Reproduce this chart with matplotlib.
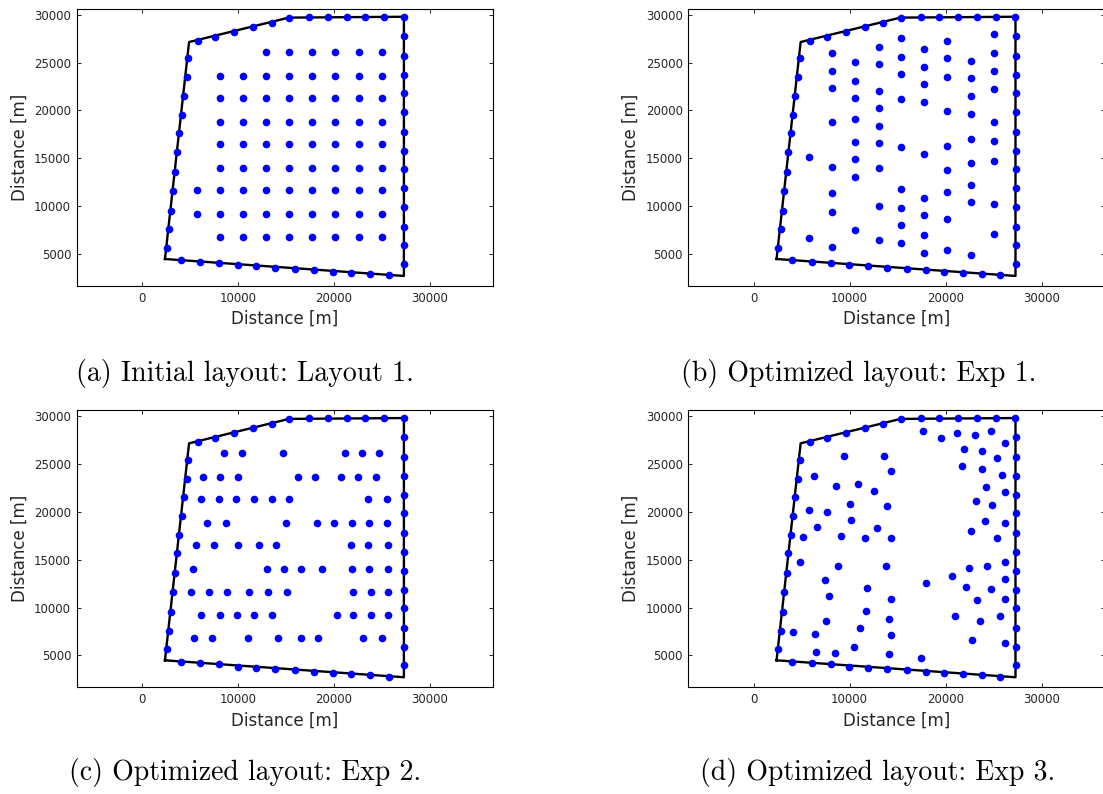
import matplotlib
matplotlib.use("Agg")
import matplotlib.pyplot as plt

# ---------------------------------------------------------------------------
# Site data (metres)
# ---------------------------------------------------------------------------
# Site boundary polygon
boundary_x = [2390, 4900, 15300, 27270, 27270, 2390]
boundary_y = [4490, 27150, 29700, 29790, 2720, 4490]

# Turbines fixed on the site boundary (common to every layout)
edge_x = [2570, 2810, 3050, 3190, 3440, 3610, 3850, 4130, 4340, 4650, 4790,
          5860, 7630, 9610, 11560, 13500, 15300, 17390, 19330, 21310, 23250,
          25190, 27270,
          27300, 27300, 27300, 27300, 27300, 27300, 27300, 27300, 27300,
          27300, 27300, 27300, 27300,
          25680, 23740, 21790, 19850, 17910, 15960, 13850, 11900, 9960, 8020,
          6070, 4030]
edge_y = [5640, 7590, 9540, 11630, 13570, 15660, 17610, 19560, 21510, 23460,
          25440,
          27290, 27670, 28190, 28710, 29130, 29650, 29790, 29790, 29790, 29790,
          29790, 29790,
          27810, 25720, 23740, 21790, 19840, 17750, 15800, 13850, 11870, 9920,
          7870, 5920, 3970,
          2790, 2930, 3070, 3170, 3310, 3450, 3590, 3730, 3830, 4070, 4210,
          4350]

# Layout 1: regular grid, one list of x positions per row
layout1_rows_y = [26100, 23600, 21300, 18830, 16500, 14030, 11660, 9190, 6820]
layout1_rows_x = [
    [12940, 15300, 17730, 20130, 22560, 24950],
    [8120, 10510, 12940, 15300, 17730, 20130, 22560, 24950],
    [8120, 10510, 12940, 15300, 17730, 20130, 22560, 24950],
    [8120, 10510, 12940, 15300, 17730, 20130, 22560, 24950],
    [8120, 10510, 12940, 15300, 17730, 20130, 22560, 24950],
    [8120, 10510, 12940, 15300, 17730, 20130, 22560, 24950],
    [5690, 8120, 10510, 12940, 15300, 17730, 20130, 22560, 24950],
    [5690, 8120, 10510, 12940, 15300, 17730, 20130, 22560, 24950],
    [8120, 10510, 12940, 15300, 17730, 20130, 22560, 24950],
]

# Exp 1: turbines moved along their columns
exp1_cols_x = [5740, 8210, 10540, 13020, 15350, 17780, 20150, 22620, 24990]
exp1_cols_y = [
    [15180, 6680],
    [25960, 24150, 22340, 18790, 14130, 11380, 9430, 5780],
    [25060, 23110, 21300, 19070, 16710, 14900, 13090, 7480],
    [26620, 24820, 22070, 20260, 18410, 16600, 13990, 10060, 6440],
    [27530, 25580, 23770, 21160, 16220, 11770, 9820, 8010, 6200],
    [26380, 24540, 22730, 20920, 15420, 10860, 9050, 6960, 5120],
    [27290, 25480, 23490, 19980, 16320, 13750, 11520, 8670, 5400],
    [25200, 23390, 21540, 19600, 16990, 14510, 12180, 10480, 4870],
    [27950, 25960, 24150, 22210, 18790, 16850, 14760, 10230, 7100],
]

# Exp 2: turbines moved along their rows
exp2_rows_y = [26100, 23600, 21300, 18830, 16500, 14030, 11660, 9190, 6820]
exp2_rows_x = [
    [8560, 10370, 14690, 21090, 22900, 24710],
    [6330, 8140, 9990, 16250, 18060, 20670, 22520, 24330],
    [6190, 8000, 9740, 11690, 13540, 15350, 23560, 25510],
    [6750, 8700, 15030, 18200, 19980, 21850, 23660, 25510],
    [5600, 7520, 9990, 12180, 13990, 21720, 23560, 25650],
    [5290, 12980, 14830, 16530, 18720, 21850, 23660, 25650],
    [5150, 7000, 8840, 11140, 13120, 15070, 21990, 23800, 25650],
    [6190, 8140, 9880, 11690, 13540, 20290, 21990, 23800, 25650],
    [5430, 7240, 11030, 14160, 16530, 18340, 23040, 25020],
]

# Exp 3: free placement
exp3_x = [17680, 19490, 21230, 23040, 24710, 26170, 21960, 23770, 25370,
          21720, 23770, 25890, 24220, 26170, 23180, 24810, 24080, 26170,
          22620, 25370, 26170, 24330, 22380, 20640, 26170, 17920, 22100,
          24710, 26170, 23280, 20950, 23530, 25610, 22760, 26170, 17440,
          9400, 13540, 14340, 6260, 8600, 10820, 12490, 10020, 13920, 5740,
          7690, 10160, 6610, 12880, 5190, 9120, 11590, 14340, 4840, 8840,
          13820, 7450, 11830, 7800, 14340, 11730, 7550, 14060, 11030, 4140,
          6370, 14340, 10410, 6540, 8460, 14060]
exp3_y = [28400, 27740, 28260, 28020, 28400, 27220, 26560, 26310, 25650,
          24750, 24500, 23880, 22550, 22030, 21160, 20710, 19040, 18790,
          17990, 17230, 14760, 14380, 14100, 13330, 12950, 12570, 12150,
          11900, 10860, 10760, 9160, 8630, 9160, 6580, 6340, 4770,
          25790, 25790, 24220, 23700, 22660, 22940, 22170, 20850, 20600,
          20190, 19940, 19180, 18380, 18270, 17370, 17510, 17230, 17230,
          14760, 14380, 14380, 12910, 12010, 11240, 10860, 9680, 8630, 8770,
          7870, 7480, 7210, 7100, 5920, 5400, 5260, 5150]

captions = ["(a) Initial layout: Layout 1.",
            "(b) Optimized layout: Exp 1.",
            "(c) Optimized layout: Exp 2.",
            "(d) Optimized layout: Exp 3."]


def rows_to_points(rows_y, rows_x):
    xs, ys = [], []
    for y, row in zip(rows_y, rows_x):
        xs.extend(row)
        ys.extend([y] * len(row))
    return xs, ys


def cols_to_points(cols_x, cols_y):
    xs, ys = [], []
    for x, col in zip(cols_x, cols_y):
        xs.extend([x] * len(col))
        ys.extend(col)
    return xs, ys


interior = [
    rows_to_points(layout1_rows_y, layout1_rows_x),
    cols_to_points(exp1_cols_x, exp1_cols_y),
    rows_to_points(exp2_rows_y, exp2_rows_x),
    (exp3_x, exp3_y),
]

# ---------------------------------------------------------------------------
# Figure
# ---------------------------------------------------------------------------
W, H = 1103, 794
fig = plt.figure(figsize=(W / 100, H / 100), dpi=100)

ax_w, ax_h = 416.6, 277.3
ax_origins = [(76.7, 8.7), (688.3, 8.7), (76.7, 410.0), (688.3, 410.0)]
caption_pos = [(76, 381), (681, 381), (69, 780), (700, 780)]

for (left, top), (ix, iy), cap, (cx, cy) in zip(ax_origins, interior,
                                                captions, caption_pos):
    ax = fig.add_axes([left / W, 1 - (top + ax_h) / H, ax_w / W, ax_h / H])
    ax.plot(boundary_x, boundary_y, color="k", lw=1.7, zorder=2)
    ax.plot(edge_x + list(ix), edge_y + list(iy), "o", color="#0000ff",
            ms=5.5, mew=0, zorder=3)
    ax.set_xlim(-6800, 36580)
    ax.set_ylim(1670, 30630)
    ax.set_xticks([0, 10000, 20000, 30000])
    ax.set_yticks([5000, 10000, 15000, 20000, 25000, 30000])
    ax.tick_params(direction="in", length=3, width=0.6, top=True, right=True,
                   labelsize=8.5, labelcolor="#262626", pad=4)
    for sp in ax.spines.values():
        sp.set_linewidth(0.8)
    ax.set_xlabel("Distance [m]", fontsize=12, color="#262626", labelpad=4)
    ax.set_ylabel("Distance [m]", fontsize=12, color="#262626", labelpad=4)

    fig.text(cx / W, 1 - cy / H, cap, family="cmr10", fontsize=20,
             ha="left", va="baseline", color="black")

fig.savefig("out.png", dpi=100)
